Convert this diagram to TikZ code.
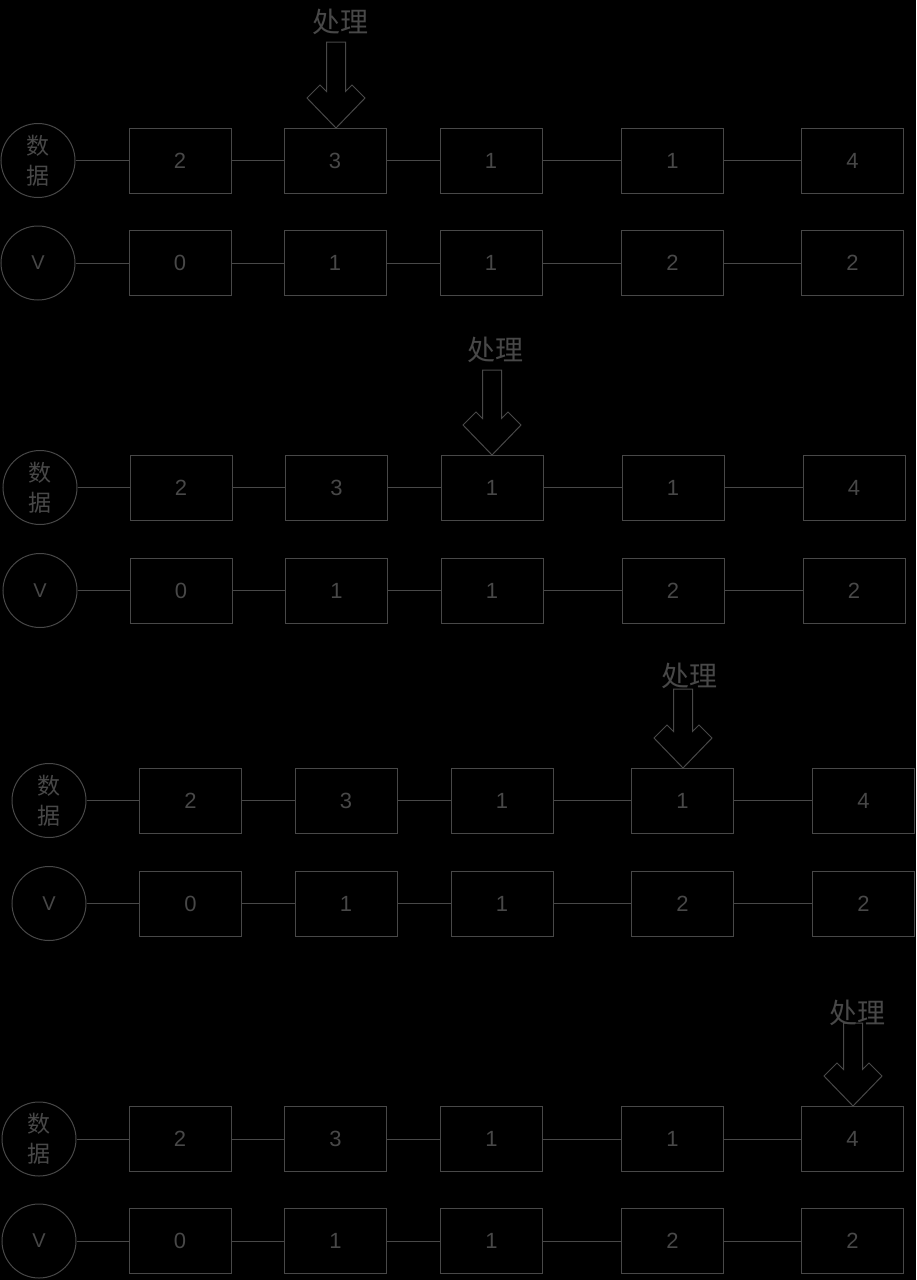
\documentclass[tikz,border=0pt]{standalone}
\usepackage{fontspec}
\setmainfont{Liberation Sans}
\newfontfamily\cjk{Noto Sans CJK SC}
\definecolor{ink}{RGB}{72,72,72}
\tikzset{
  cell/.style={draw=ink, line width=1pt, minimum width=102pt, minimum height=65pt, inner sep=0pt, text=ink, font=\fontsize{22}{24}\selectfont},
  head/.style={draw=ink, line width=1pt, circle, minimum size=74pt, inner sep=0pt, text=ink},
  link/.style={draw=ink, line width=1pt},
  lbl/.style={text=ink, font=\cjk\fontsize{28}{30}\selectfont, inner sep=0pt},
  fat/.style={draw=ink, line width=1pt, line join=miter}
}
% #1 prefix, #2 circle x, #3 data y, #4 v y, #5..#9 box x centres
\newcommand{\chainrows}[9]{%
  \node[head, font=\cjk\fontsize{23}{30}\selectfont, align=center] (#1d0) at (#2,#3) {数\\据};
  \node[head, font=\fontsize{20}{22}\selectfont] (#1v0) at (#2,#4) {V};
  \node[cell] (#1d1) at (#5,#3) {2};
  \node[cell] (#1d2) at (#6,#3) {3};
  \node[cell] (#1d3) at (#7,#3) {1};
  \node[cell] (#1d4) at (#8,#3) {1};
  \node[cell] (#1d5) at (#9,#3) {4};
  \node[cell] (#1v1) at (#5,#4) {0};
  \node[cell] (#1v2) at (#6,#4) {1};
  \node[cell] (#1v3) at (#7,#4) {1};
  \node[cell] (#1v4) at (#8,#4) {2};
  \node[cell] (#1v5) at (#9,#4) {2};
  \draw[link] (#1d0) -- (#1d1) -- (#1d2) -- (#1d3) -- (#1d4) -- (#1d5);
  \draw[link] (#1v0) -- (#1v1) -- (#1v2) -- (#1v3) -- (#1v4) -- (#1v5);
}
% #1 name, #2 tip x, #3 tip y, #4 shaft top y
\newcommand{\procarrow}[4]{%
  \coordinate (#1) at (#2,#3);
  \draw[fat] (#1) -- ++(-29,-30) -- ++(13,-13) -- ++(6.5,6.5) |- (#2+9.5,#4) -- (#2+9.5,#3-36.5) -- ++(6.5,-6.5) -- ++(13,13) -- cycle;
}
\begin{document}
\begin{tikzpicture}[x=1pt,y=-1pt]
\useasboundingbox (0,0) rectangle (916,1280);
\fill[black] (0,0) rectangle (916,1280);

% section 1
\chainrows{a}{38}{160.5}{263}{180}{335}{491}{672.5}{852.5}
\node[lbl] (ta) at (340,22) {处理};
\procarrow{pa}{336}{128}{42}

% section 2
\chainrows{b}{40}{487.5}{590.5}{181}{336.5}{492}{673}{854}
\node[lbl] (tb) at (495,350) {处理};
\procarrow{pb}{492}{455}{370}

% section 3
\chainrows{c}{49}{800.5}{903.5}{190.5}{346}{502}{682.5}{863.5}
\node[lbl] (tc) at (689,676) {处理};
\procarrow{pc}{683}{768}{689}

% section 4
\chainrows{e}{39}{1139}{1241}{180}{335.5}{491.5}{672.5}{852.5}
\node[lbl] (te) at (857,1013) {处理};
\procarrow{pe}{853}{1106}{1023}
\end{tikzpicture}
\end{document}
